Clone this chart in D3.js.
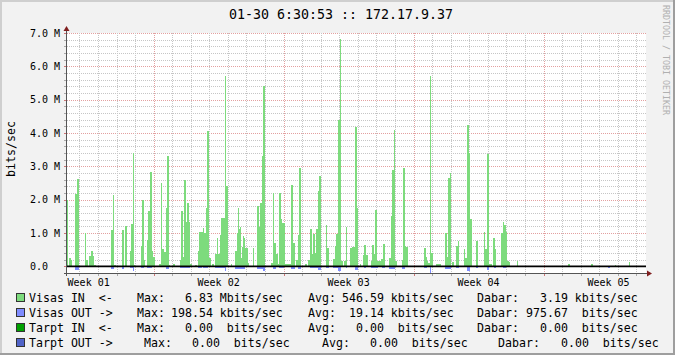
<!DOCTYPE html>
<html>
<head>
<meta charset="utf-8">
<script src="https://cdn.jsdelivr.net/npm/d3@7"></script>
<style>
body { margin: 0; background: #f2f2f2; }
svg { display: block; }
text { font-family: "DejaVu Sans Mono", monospace; }
</style>
</head>
<body>
<div id="chart-area"></div>
<script>
// series: [hours since start, Mbit/s], step values (value holds until next entry)
const visasIn = [
  [0, 2.0], [1.3, 0], [2.6, 0.25], [5.2, 0.19], [6.5, 0],
  [9.9, 2.17], [12.9, 2.61], [15.5, 0],
  [23.3, 1.0], [24.6, 0.19], [27.1, 0],
  [28.4, 0.3], [31.0, 0.46], [33.6, 0.3], [34.9, 0.04], [37.5, 0],
  [56.9, 1.1], [59.5, 2.14], [60.7, 0.05], [63.3, 0],
  [71.1, 1.1], [73.7, 0], [75.0, 1.2], [77.5, 0],
  [81.4, 0.46], [82.7, 1.27], [85.3, 3.4], [86.6, 0.04], [87.9, 0],
  [95.6, 0.6], [96.9, 2.0], [99.5, 0.19], [100.8, 0],
  [103.4, 0.8], [104.7, 1.66], [107.3, 2.83], [109.9, 0.46], [111.1, 0.28], [113.7, 0],
  [118.9, 0.07], [121.5, 2.5], [122.8, 0.52], [125.4, 0.43], [128.0, 1.75], [129.2, 3.31], [131.8, 0.05], [133.1, 0],
  [137.0, 0.07], [139.6, 0],
  [146.1, 0.19], [147.4, 1.66], [150.0, 0.27], [151.2, 2.59], [153.8, 1.34], [155.1, 1.9], [157.7, 1.34], [159.0, 0.07], [161.6, 0],
  [165.4, 0.04], [168.0, 0],
  [169.3, 0.46], [170.6, 1.03], [175.8, 1.15], [177.1, 1.0], [179.7, 1.75], [181.0, 4.06], [183.5, 0.26], [186.1, 0],
  [187.4, 0.07], [190.0, 0],
  [191.3, 0.38], [193.9, 0.84], [195.2, 0.38], [197.8, 0.94], [199.1, 1.45], [204.2, 5.71], [205.5, 2.42], [208.1, 0],
  [212.0, 0.06], [213.3, 0],
  [217.1, 0.45], [219.7, 1.0], [221.0, 1.75], [222.3, 1.13], [223.6, 1.19], [224.9, 0.26], [226.2, 0.59], [227.5, 0.92], [228.8, 0.84], [230.1, 0.56], [233.9, 0.09], [235.2, 0],
  [240.4, 0.54], [241.7, 0],
  [245.6, 1.81], [248.2, 1.19], [249.5, 1.9], [252.0, 3.31], [253.3, 5.41], [255.9, 0],
  [263.7, 0.09], [266.3, 2.2], [267.6, 0.71], [270.1, 0.37], [272.7, 0.07], [274.0, 2.2], [276.6, 1.42], [277.9, 1.3], [281.8, 0.08],
  [289.5, 2.44], [292.1, 0.69], [294.6, 0], [295.9, 0.19], [298.5, 0.94], [299.8, 2.95], [302.4, 0],
  [307.6, 0.07], [310.2, 0],
  [311.4, 0.19], [314.0, 1.12], [316.6, 0.37], [317.9, 0.98], [320.5, 0.39], [321.8, 1.12], [324.4, 2.26], [325.7, 2.71], [328.2, 0],
  [334.7, 1.24], [336.0, 0.55], [338.6, 0],
  [343.8, 0.22], [346.3, 0.61], [347.6, 0.97], [350.2, 4.39], [352.8, 6.83], [354.1, 0.17], [356.7, 0], [358.0, 0.16], [360.6, 1.19], [361.9, 0],
  [365.7, 0.55], [368.3, 0.59], [372.2, 4.18], [374.8, 1.75], [376.1, 0],
  [378.7, 0.07], [379.9, 0],
  [382.5, 0.34], [383.8, 0.64], [386.4, 0.34], [389.0, 0],
  [392.9, 0.15], [394.2, 0.64], [396.7, 0.37], [398.0, 1.69], [400.6, 0.16], [403.2, 0.17], [405.8, 0.23], [408.4, 0.67], [411.0, 0],
  [416.1, 0.25], [418.7, 1.51], [420.0, 2.89], [422.6, 4.09], [423.9, 0.16], [426.5, 0],
  [433.0, 0.19], [434.3, 2.95], [436.9, 0.61], [438.2, 0.58], [440.7, 0],
  [461.4, 0.54], [464.0, 0.28], [465.3, 0.15], [466.6, 0.09], [469.2, 5.71], [470.5, 0.4], [473.0, 0],
  [476.9, 0.07], [483.4, 0],
  [488.6, 1.0], [491.1, 0.28], [492.4, 2.65], [495.0, 2.8], [496.3, 0],
  [497.6, 0.13], [500.2, 0], [502.8, 0.61], [505.4, 0.76], [506.7, 0],
  [513.1, 0.52], [514.4, 0.25], [517.0, 4.24], [519.6, 3.4], [520.9, 1.42], [523.5, 0],
  [528.6, 0.76], [531.2, 0],
  [539.0, 1.03], [540.3, 0.52], [542.8, 3.37], [545.4, 0.07], [549.3, 0],
  [550.6, 0.85], [553.2, 0.52], [554.5, 0],
  [560.9, 1.0], [563.5, 1.33], [564.8, 1.24], [567.4, 1.03], [568.7, 0.15], [571.3, 0.13], [572.6, 0],
  [581.6, 0.15], [582.9, 0],
  [647.5, 0.06], [650.1, 0],
  [677.3, 0.06], [679.9, 0],
  [708.3, 0.03], [709.6, 0],
  [726.4, 0.12], [727.7, 0]
];

const visasOut = [
  [0, 0], [9.9, 0.11], [15.5, 0],
  [50.4, 0.03], [53.0, 0],
  [56.9, 0.07], [60.7, 0],
  [71.1, 0.07], [73.7, 0], [75.0, 0.03], [77.5, 0],
  [81.4, 0.06], [85.3, 0.13], [86.6, 0],
  [95.6, 0.06], [99.5, 0],
  [103.4, 0.06], [109.9, 0],
  [121.5, 0.03], [124.1, 0],
  [128.0, 0.09], [131.8, 0],
  [146.1, 0.06], [159.0, 0],
  [169.3, 0.05], [174.0, 0],
  [175.8, 0.05], [182.7, 0],
  [191.3, 0.04], [204.2, 0.15], [205.5, 0],
  [217.1, 0.07], [230.1, 0],
  [245.6, 0.08], [253.3, 0.15], [255.9, 0],
  [266.3, 0.07], [270.1, 0],
  [274.0, 0.06], [280.5, 0],
  [289.5, 0.07], [294.6, 0],
  [298.5, 0.08], [302.4, 0],
  [314.0, 0.04], [324.4, 0.11], [328.2, 0],
  [334.7, 0.04], [338.6, 0],
  [343.8, 0.04], [350.2, 0.13], [354.1, 0],
  [360.6, 0.06], [361.9, 0],
  [372.2, 0.11], [376.1, 0],
  [383.8, 0.04], [386.4, 0],
  [392.9, 0.06], [401.9, 0],
  [407.1, 0.04], [411.0, 0],
  [416.1, 0.09], [423.9, 0],
  [433.0, 0.09], [436.9, 0],
  [461.4, 0.04], [465.3, 0],
  [469.2, 0.1985], [470.5, 0],
  [488.6, 0.09], [496.3, 0],
  [502.8, 0.04], [506.7, 0],
  [517.0, 0.13], [520.9, 0],
  [528.6, 0.04], [531.2, 0],
  [542.8, 0.1], [545.4, 0],
  [551.9, 0.04], [554.5, 0],
  [563.5, 0.06], [567.4, 0.03], [571.3, 0],
  [699.2, 0.04], [701.8, 0]
];

const tarptIn = [[0, 0], [727.7, 0]];
const tarptOut = [[0, 0], [727.7, 0]];

const yTicks = [0, 1, 2, 3, 4, 5, 6, 7];

const legendNames = ["Visas IN  <-", "Visas OUT ->", "Tarpt IN  <-", "Tarpt OUT ->"];
const legendColors = ["#7ddb7d", "#7f8cff", "#00a000", "#5164c8"];
const maxVals = [6.83, 198.54, 0, 0];
const maxUnits = ["M", "k", " ", " "];
const avgVals = [546.59, 19.14, 0, 0];
const avgUnits = ["k", "k", " ", " "];
const curVals = [3.19, 975.67, 0, 0];
const curUnits = ["k", " ", " ", " "];
const rowShift = [0, 0, 0, 1];

const title = "01-30 6:30:53 :: 172.17.9.37";

const W = 675, H = 355;
const plot = {left: 67, right: 646, top: 33, bottom: 273};

const startTime = Date.UTC(2014, 0, 1, 8, 0);
const endTime = Date.UTC(2014, 1, 1, 12, 24);
const hourToDate = h => new Date(startTime + h * 3600e3);

const x = d3.scaleUtc()
    .domain([new Date(startTime), new Date(endTime)])
    .range([plot.left, plot.right]);

const y = d3.scaleLinear()
    .domain([-0.2, 7.0])
    .range([plot.bottom, plot.top]);

const svg = d3.select("#chart-area")
    .append('svg')
    .attr('width', W)
    .attr('height', H);

// frame
svg.append('rect').attr('width', W).attr('height', H).attr('fill', '#f2f2f2');
svg.append('rect').attr('x', 0).attr('y', 0).attr('width', W).attr('height', 2).attr('fill', '#cfcfcf');
svg.append('rect').attr('x', 0).attr('y', 0).attr('width', 2).attr('height', H).attr('fill', '#cfcfcf');
svg.append('rect').attr('x', 0).attr('y', H - 2).attr('width', W).attr('height', 2).attr('fill', '#9e9e9e');
svg.append('rect').attr('x', W - 2).attr('y', 0).attr('width', 2).attr('height', H).attr('fill', '#9e9e9e');

// canvas
svg.append('rect')
    .attr('x', plot.left).attr('y', plot.top)
    .attr('width', plot.right - plot.left)
    .attr('height', plot.bottom - plot.top)
    .attr('fill', '#ffffff');

const gridColor = '#c6c6c6', mgridColor = '#e3a0a0';

// horizontal grid
const hMinor = d3.range(-1, 36).map(i => +(i * 0.2).toFixed(1)).filter(v => !Number.isInteger(v));
const grid = svg.append('g').attr('shape-rendering', 'crispEdges');
hMinor.forEach(v => {
  const yy = Math.round(y(v)) + 0.5;
  grid.append('line').attr('x1', plot.left).attr('x2', plot.right).attr('y1', yy).attr('y2', yy)
      .attr('stroke', gridColor).attr('stroke-dasharray', '1,1');
  grid.append('line').attr('x1', plot.left - 3).attr('x2', plot.left).attr('y1', yy).attr('y2', yy)
      .attr('stroke', '#aaa');
});
yTicks.forEach(v => {
  const yy = Math.round(y(v)) + 0.5;
  grid.append('line').attr('x1', plot.left).attr('x2', plot.right).attr('y1', yy).attr('y2', yy)
      .attr('stroke', mgridColor).attr('stroke-dasharray', '1,1');
  grid.append('line').attr('x1', plot.left - 3).attr('x2', plot.left).attr('y1', yy).attr('y2', yy)
      .attr('stroke', '#c77');
});

// vertical grid: days, Mondays as major
const days = d3.utcDay.range(new Date(startTime), new Date(endTime));
days.forEach(d => {
  const isMajor = d.getUTCDay() === 1;
  const xx = Math.round(x(d)) + 0.5;
  grid.append('line').attr('x1', xx).attr('x2', xx).attr('y1', plot.top).attr('y2', plot.bottom)
      .attr('stroke', isMajor ? mgridColor : gridColor).attr('stroke-dasharray', '1,1');
  grid.append('line').attr('x1', xx).attr('x2', xx).attr('y1', plot.bottom).attr('y2', plot.bottom + 3)
      .attr('stroke', isMajor ? '#c77' : '#aaa');
});

// areas
const areaIn = d3.area()
    .curve(d3.curveStepAfter)
    .x(d => x(hourToDate(d[0])))
    .y0(y(0))
    .y1(d => y(d[1]));

const areaOut = d3.area()
    .curve(d3.curveStepAfter)
    .x(d => x(hourToDate(d[0])))
    .y0(y(0))
    .y1(d => y(-d[1]));

svg.append('path').datum(visasIn).attr('d', areaIn).attr('fill', legendColors[0]).attr('shape-rendering', 'crispEdges');
svg.append('path').datum(visasOut).attr('d', areaOut).attr('fill', legendColors[1]).attr('shape-rendering', 'crispEdges');
svg.append('path').datum(tarptIn).attr('d', areaIn).attr('fill', legendColors[2]).attr('shape-rendering', 'crispEdges');
svg.append('path').datum(tarptOut).attr('d', areaOut).attr('fill', legendColors[3]).attr('shape-rendering', 'crispEdges');

// zero rule
svg.append('line')
    .attr('x1', plot.left).attr('x2', plot.right)
    .attr('y1', y(0)).attr('y2', y(0))
    .attr('stroke', '#000').attr('stroke-width', 1.6);

// axes
svg.append('line')
    .attr('x1', plot.left - 3).attr('x2', plot.right + 3)
    .attr('y1', plot.bottom + 0.5).attr('y2', plot.bottom + 0.5)
    .attr('stroke', '#555');
svg.append('line')
    .attr('x1', plot.left - 0.5).attr('x2', plot.left - 0.5)
    .attr('y1', plot.bottom + 3).attr('y2', plot.top - 3)
    .attr('stroke', '#555');

// arrows
svg.append('path')
    .attr('d', `M${plot.right + 1},${plot.bottom - 2.5} L${plot.right + 6},${plot.bottom + 0.5} L${plot.right + 1},${plot.bottom + 3.5} Z`)
    .attr('fill', '#801f1f');
svg.append('path')
    .attr('d', `M${plot.left - 3.5},${plot.top - 2} L${plot.left - 0.5},${plot.top - 7} L${plot.left + 2.5},${plot.top - 2} Z`)
    .attr('fill', '#801f1f');

// y tick labels
svg.append('g').selectAll('text')
    .data(yTicks)
    .enter().append('text')
    .attr('x', 30)
    .attr('y', d => y(d) + 3.5)
    .attr('font-size', '10px')
    .attr('fill', '#000')
    .text(d => d === 0 ? '0.0' : d3.format('.1f')(d) + ' M');

// week labels, centred in each week
const weekFmt = d3.utcFormat('Week %V');
const weekStarts = d3.utcMonday.range(d3.utcMonday.floor(new Date(startTime)), new Date(endTime));
svg.append('g').selectAll('text')
    .data(weekStarts.map(d => new Date(+d + 3.5 * 864e5)).filter(d => d < new Date(endTime)))
    .enter().append('text')
    .attr('x', d => x(d))
    .attr('y', 285.5)
    .attr('text-anchor', 'middle')
    .attr('font-size', '10px')
    .text(d => weekFmt(d));

// y label
svg.append('text')
    .attr('transform', 'translate(15, 149) rotate(-90)')
    .attr('text-anchor', 'middle')
    .attr('font-size', '11.6px')
    .text('bits/sec');

// title
svg.append('text')
    .attr('x', 341)
    .attr('y', 19)
    .attr('text-anchor', 'middle')
    .attr('font-size', '13.3px')
    .text(title);

// watermark
svg.append('text')
    .attr('transform', 'translate(663, 5) rotate(90)')
    .attr('font-size', '8.3px')
    .attr('fill', '#b0b0b0')
    .text('RRDTOOL / TOBI OETIKER');

// legend (monospace, keep spaces)
const keep = s => s.replace(/ /g, '\u00a0');
const fmt = d3.format('6.2f');
const fmtVal = (v, u) => keep(fmt(v) + ' ' + u + 'bits/sec');
const legend = svg.append('g').attr('font-size', '11.6px');
legendNames.forEach((name, i) => {
  const by = 302 + i * 15;
  const s = rowShift[i] * 7;
  legend.append('rect')
      .attr('x', 16.5).attr('y', by - 8.5)
      .attr('width', 8).attr('height', 8)
      .attr('fill', legendColors[i])
      .attr('stroke', '#333');
  legend.append('text').attr('x', 29).attr('y', by).text(keep(name));
  legend.append('text').attr('x', 137 + s).attr('y', by).text('Max:');
  legend.append('text').attr('x', 171 + s).attr('y', by).text(fmtVal(maxVals[i], maxUnits[i]));
  legend.append('text').attr('x', 308 + 2 * s).attr('y', by).text('Avg:');
  legend.append('text').attr('x', 342 + 2 * s).attr('y', by).text(fmtVal(avgVals[i], avgUnits[i]));
  legend.append('text').attr('x', 477 + 3 * s).attr('y', by).text('Dabar:');
  legend.append('text').attr('x', 526 + 3 * s).attr('y', by).text(fmtVal(curVals[i], curUnits[i]));
});
</script>
</body>
</html>
